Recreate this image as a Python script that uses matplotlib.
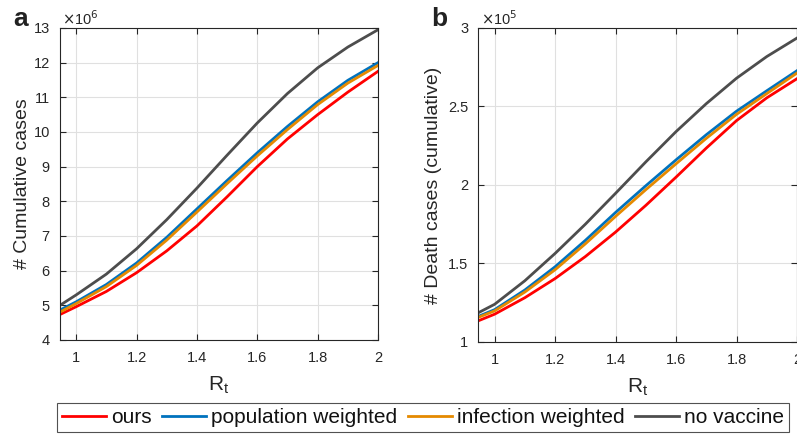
import matplotlib
matplotlib.use("Agg")
import matplotlib.pyplot as plt

# reproduction number grid
rt = [0.95, 1.0, 1.1, 1.2, 1.3, 1.4, 1.5, 1.6, 1.7, 1.8, 1.9, 2.0]

# cumulative cases (x1e6)
cases_ours = [4.75, 4.96, 5.40, 5.94, 6.57, 7.29, 8.13, 9.00, 9.80, 10.50, 11.15, 11.75]
cases_pop = [4.88, 5.10, 5.60, 6.22, 6.96, 7.78, 8.60, 9.40, 10.16, 10.87, 11.49, 12.00]
cases_inf = [4.82, 5.05, 5.54, 6.15, 6.88, 7.69, 8.51, 9.31, 10.07, 10.79, 11.41, 11.92]
cases_none = [5.02, 5.30, 5.90, 6.63, 7.47, 8.38, 9.33, 10.26, 11.11, 11.85, 12.45, 12.95]

# cumulative deaths (x1e5)
deaths_ours = [1.138, 1.177, 1.282, 1.404, 1.544, 1.700, 1.870, 2.050, 2.235, 2.410, 2.555, 2.677]
deaths_pop = [1.166, 1.206, 1.331, 1.479, 1.647, 1.825, 1.995, 2.160, 2.320, 2.470, 2.600, 2.728]
deaths_inf = [1.160, 1.198, 1.318, 1.460, 1.625, 1.800, 1.970, 2.135, 2.297, 2.450, 2.582, 2.713]
deaths_none = [1.190, 1.240, 1.390, 1.564, 1.750, 1.947, 2.147, 2.340, 2.518, 2.680, 2.818, 2.936]

labels = ["ours", "population weighted", "infection weighted", "no vaccine"]
colors = ["#FF0000", "#0072BD", "#E58A00", "#4D4D4D"]

plt.rcParams["font.family"] = ["Liberation Sans", "DejaVu Sans"]
TXT = "#262626"

fig = plt.figure(figsize=(7.97, 4.34), dpi=100)
ax_a = fig.add_axes([0.0747, 0.2166, 0.3996, 0.7189])
ax_b = fig.add_axes([0.5997, 0.2120, 0.4003, 0.7235])


def draw(ax, series, ylim, yticks, yticklabels, ylabel, expo, ypad):
    lines = []
    for s, c, lab in zip(series, colors, labels):
        ln, = ax.plot(rt, s, color=c, lw=2.0, label=lab, solid_joinstyle="round")
        lines.append(ln)
    ax.set_xlim(0.945, 2.0)
    ax.set_ylim(*ylim)
    ax.set_xticks([1, 1.2, 1.4, 1.6, 1.8, 2])
    ax.set_xticklabels(["1", "1.2", "1.4", "1.6", "1.8", "2"])
    ax.set_yticks(yticks)
    ax.set_yticklabels(yticklabels)
    ax.grid(True, color="#E0E0E0", lw=0.8)
    ax.set_axisbelow(True)
    ax.tick_params(direction="in", length=4, width=0.8, colors=TXT,
                   labelsize=10.5, top=True, right=True, pad=8)
    ax.tick_params(axis="y", pad=7)
    for sp in ax.spines.values():
        sp.set_color("#262626")
        sp.set_linewidth(0.8)
    ax.set_xlabel(r"R$_\mathregular{t}$", fontsize=15, color=TXT, labelpad=7)
    ax.set_ylabel(ylabel, fontsize=14, color=TXT, labelpad=ypad)
    ax.text(0.008, 1.0, r"$\times$10$^{%d}$" % expo, transform=ax.transAxes,
            fontsize=10.5, color=TXT, va="bottom", ha="left")
    return lines


lines = draw(ax_a, [cases_ours, cases_pop, cases_inf, cases_none], (4, 13),
             range(4, 14), [str(v) for v in range(4, 14)],
             "# Cumulative cases", 6, 2)
draw(ax_b, [deaths_ours, deaths_pop, deaths_inf, deaths_none], (1, 3),
     [1, 1.5, 2, 2.5, 3], ["1", "1.5", "2", "2.5", "3"],
     "# Death cases (cumulative)", 5, 4)

fig.text(0.016, 0.985, "a", fontsize=19, fontweight="bold", va="top", color="#222222")
fig.text(0.541, 0.985, "b", fontsize=19, fontweight="bold", va="top", color="#222222")

leg = fig.legend(lines, labels, loc="lower center", bbox_to_anchor=(0.531, 0.004),
                 ncol=4, fontsize=15, frameon=True, fancybox=False,
                 handlelength=2.1, handletextpad=0.25, columnspacing=0.5,
                 borderpad=0.25, borderaxespad=0.0)
leg.get_frame().set_edgecolor("#262626")
leg.get_frame().set_linewidth(0.8)
for t in leg.get_texts():
    t.set_color("#111111")

fig.savefig("out.png", dpi=100)
